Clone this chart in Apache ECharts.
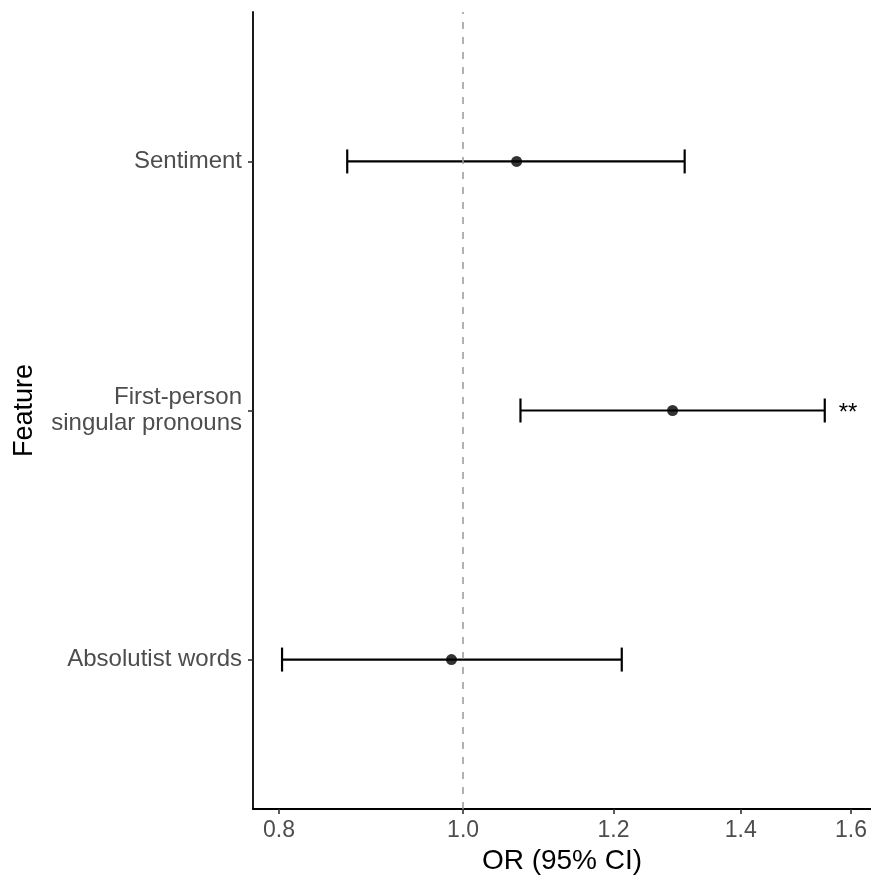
<!DOCTYPE html>
<html>
<head>
<meta charset="utf-8">
<script src="https://cdn.jsdelivr.net/npm/echarts@6/dist/echarts.min.js"></script>
<style>
  html, body { margin: 0; padding: 0; background: #fff; }
  #chart { width: 871px; height: 875px; }
</style>
</head>
<body>
<div id="chart"></div>
<script>
// data, top to bottom
const features = ["Sentiment", "First-person\nsingular pronouns", "Absolutist words"];
const oddsRatio = [1.067, 1.289, 0.986];
const ciLow = [0.869, 1.072, 0.803];
const ciHigh = [1.308, 1.550, 1.212];
const significance = ["", "**", ""];
const xTicks = [0.8, 1.0, 1.2, 1.4, 1.6];

const FONT = "'Liberation Sans', Arial, sans-serif";
const n = features.length;
const yPos = (i) => n - i; // first feature at the top

const chart = echarts.init(document.getElementById("chart"));

// x is on a log scale, so plot ln(OR) and label the ticks back as OR
const barData = features.map((f, i) => [Math.log(ciLow[i]), Math.log(ciHigh[i]), yPos(i), i]);
const pointData = features.map((f, i) => [Math.log(oddsRatio[i]), yPos(i)]);

const option = {
  animation: false,
  grid: {
    left: 253,
    right: 0,
    top: 12,
    bottom: 66,
    containLabel: false,
    outerBoundsMode: "none",
  },
  xAxis: {
    type: "value",
    min: -0.2546,
    max: 0.4943,
    name: "OR (95% CI)",
    nameLocation: "middle",
    nameGap: 37,
    nameTextStyle: { color: "#000", fontSize: 28, fontFamily: FONT },
    axisLine: { onZero: false, lineStyle: { color: "#000", width: 1.8 } },
    axisTick: {
      length: 5,
      lineStyle: { color: "#333", width: 1.6 },
      customValues: xTicks.map((t) => Math.log(t)),
    },
    axisLabel: {
      color: "#4d4d4d",
      fontSize: 23,
      fontFamily: FONT,
      margin: 10,
      customValues: xTicks.map((t) => Math.log(t)),
      formatter: (v) => Math.exp(v).toFixed(1),
    },
    splitLine: { show: false },
  },
  yAxis: {
    type: "value",
    min: 0.4,
    max: 3.6,
    name: "Feature",
    nameLocation: "middle",
    nameGap: 215,
    nameRotate: 90,
    nameTextStyle: { color: "#000", fontSize: 27, fontFamily: FONT },
    axisLine: { show: true, onZero: false, lineStyle: { color: "#000", width: 1.8 } },
    axisTick: {
      show: true,
      length: 5,
      lineStyle: { color: "#333", width: 1.6 },
      customValues: features.map((f, i) => yPos(i)),
    },
    axisLabel: {
      color: "#4d4d4d",
      fontSize: 24,
      lineHeight: 26,
      fontFamily: FONT,
      margin: 11,
      align: "right",
      customValues: features.map((f, i) => yPos(i)),
      formatter: (v) => features[n - Math.round(v)],
    },
    splitLine: { show: false },
  },
  series: [
    {
      type: "custom",
      data: barData,
      encode: { x: [0, 1], y: 2 },
      z: 3,
      renderItem: function (params, api) {
        const lo = api.coord([api.value(0), api.value(2)]);
        const hi = api.coord([api.value(1), api.value(2)]);
        const cap = 12;
        const style = { stroke: "#000", lineWidth: 2.2 };
        const children = [
          { type: "line", shape: { x1: lo[0], y1: lo[1], x2: hi[0], y2: hi[1] }, style: style },
          { type: "line", shape: { x1: lo[0], y1: lo[1] - cap, x2: lo[0], y2: lo[1] + cap }, style: style },
          { type: "line", shape: { x1: hi[0], y1: hi[1] - cap, x2: hi[0], y2: hi[1] + cap }, style: style },
        ];
        const sig = significance[api.value(3)];
        if (sig) {
          children.push({
            type: "text",
            style: {
              text: sig,
              x: hi[0] + 14,
              y: hi[1] + 3,
              verticalAlign: "middle",
              fontSize: 24,
              fontFamily: FONT,
              fill: "#000",
            },
          });
        }
        return { type: "group", children: children };
      },
    },
    {
      type: "scatter",
      data: pointData,
      symbolSize: 11,
      itemStyle: { color: "#000" },
      z: 4,
      markLine: {
        silent: true,
        symbol: "none",
        label: { show: false },
        lineStyle: { color: "#999", width: 1.5, type: [7, 8] },
        data: [{ xAxis: 0 }],
      },
    },
  ],
};

chart.setOption(option);
</script>
</body>
</html>
